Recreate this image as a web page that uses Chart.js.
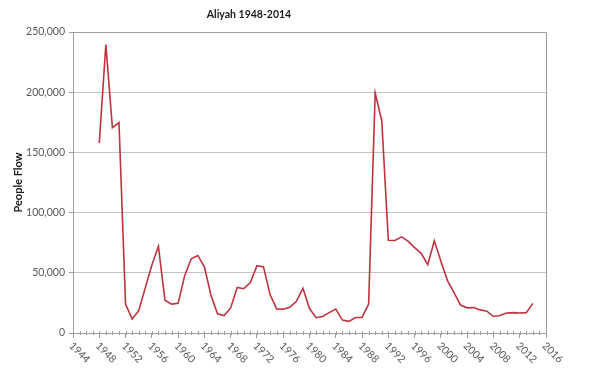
<!DOCTYPE html>
<html>
<head>
<meta charset="utf-8">
<script src="https://cdn.jsdelivr.net/npm/chart.js@4.4.1/dist/chart.umd.min.js"></script>
<style>
    html, body { margin: 0; padding: 0; background: #fff; }
</style>
</head>
<body>
<canvas id="aliyahChart" width="600" height="376"></canvas>
<script>
// Data
const years = [
    1948, 1949, 1950, 1951, 1952, 1953, 1954, 1955, 1956, 1957,
    1958, 1959, 1960, 1961, 1962, 1963, 1964, 1965, 1966, 1967,
    1968, 1969, 1970, 1971, 1972, 1973, 1974, 1975, 1976, 1977,
    1978, 1979, 1980, 1981, 1982, 1983, 1984, 1985, 1986, 1987,
    1988, 1989, 1990, 1991, 1992, 1993, 1994, 1995, 1996, 1997,
    1998, 1999, 2000, 2001, 2002, 2003, 2004, 2005, 2006, 2007,
    2008, 2009, 2010, 2011, 2012, 2013, 2014
];
const peopleFlow = [
    157800, 239500, 170500, 174800, 24000, 11600, 18400, 37500, 56200, 72000,
    27200, 24000, 24600, 47600, 61600, 64400, 55000, 31400, 16000, 14500,
    20800, 37800, 36800, 41900, 55900, 54900, 31900, 20000, 19700, 21300,
    26300, 37100, 20300, 12700, 13700, 16900, 19900, 10700, 9700, 12900,
    13000, 24000, 199300, 176300, 77000, 76800, 79800, 76300, 70900, 66200,
    56800, 76600, 59500, 43500, 33500, 23200, 20900, 21100, 19200, 18100,
    13700, 14500, 16600, 16900, 16600, 16900, 24600
];
const xTickYears = [1944, 1948, 1952, 1956, 1960, 1964, 1968, 1972, 1976,
    1980, 1984, 1988, 1992, 1996, 2000, 2004, 2008, 2012, 2016];
const yTickValues = [0, 50000, 100000, 150000, 200000, 250000];

const chartTitle = 'Aliyah 1948-2014';
const yAxisTitle = 'People Flow';

const axisGray = '#9d9d9d';
const gridGray = '#c4c4c4';
const lineRed = '#bd3440';

// Excel style axis: minor yearly ticks, rotated year labels, plot border, title
const excelAxisPlugin = {
    id: 'excelAxis',
    afterDraw(chart) {
        const ctx = chart.ctx;
        const xScale = chart.scales.x;
        const area = chart.chartArea;
        ctx.save();

        // top and right border of plot area
        ctx.strokeStyle = axisGray;
        ctx.lineWidth = 1;
        ctx.beginPath();
        ctx.moveTo(area.left, Math.round(area.top) + 0.5);
        ctx.lineTo(Math.round(area.right) + 0.5, Math.round(area.top) + 0.5);
        ctx.lineTo(Math.round(area.right) + 0.5, area.bottom);
        ctx.stroke();

        // minor ticks every year
        ctx.beginPath();
        for (let yr = xScale.min; yr <= xScale.max; yr++) {
            const px = Math.round(xScale.getPixelForValue(yr)) + 0.5;
            ctx.moveTo(px, area.bottom - 2);
            ctx.lineTo(px, area.bottom + 2);
        }
        ctx.stroke();

        // rotated year labels
        ctx.font = '10.5px Lato';
        ctx.fillStyle = '#595959';
        ctx.textAlign = 'left';
        ctx.textBaseline = 'middle';
        xScale.ticks.forEach(tick => {
            const px = xScale.getPixelForValue(tick.value);
            ctx.save();
            ctx.translate(px - 2, area.bottom + 11);
            ctx.rotate(Math.PI / 4);
            ctx.fillText(String(tick.value), 0, 0);
            ctx.restore();
        });

        // chart title
        ctx.font = 'bold 10.5px Lato';
        ctx.fillStyle = '#1a1a1a';
        ctx.textAlign = 'center';
        ctx.fillText(chartTitle, 249, 15);
        ctx.restore();
    }
};

const ctx = document.getElementById('aliyahChart').getContext('2d');
new Chart(ctx, {
    type: 'line',
    data: {
        datasets: [{
            label: 'Aliyah',
            data: years.map((yr, i) => ({ x: yr, y: peopleFlow[i] })),
            borderColor: lineRed,
            backgroundColor: lineRed,
            borderWidth: 1.6,
            pointRadius: 0,
            tension: 0
        }]
    },
    options: {
        responsive: false,
        animation: false,
        layout: {
            padding: { top: 32, right: 54, bottom: 0, left: 0 }
        },
        plugins: {
            legend: { display: false },
            tooltip: { enabled: false }
        },
        scales: {
            x: {
                type: 'linear',
                min: 1944,
                max: 2016,
                afterBuildTicks: scale => {
                    scale.ticks = xTickYears.map(v => ({ value: v }));
                },
                afterFit: scale => { scale.height = 43; },
                ticks: { display: false },
                grid: {
                    drawOnChartArea: false,
                    drawTicks: true,
                    tickLength: 5,
                    color: axisGray
                },
                border: { color: axisGray }
            },
            y: {
                min: 0,
                max: 250000,
                afterBuildTicks: scale => {
                    scale.ticks = yTickValues.map(v => ({ value: v }));
                },
                afterFit: scale => { scale.width = 73; },
                ticks: {
                    color: '#595959',
                    padding: 4,
                    font: { family: 'Lato', size: 10.5 },
                    callback: value => value.toLocaleString('en-US')
                },
                grid: {
                    color: gridGray,
                    tickLength: 4,
                    tickColor: axisGray
                },
                border: { color: axisGray },
                title: {
                    display: true,
                    text: yAxisTitle,
                    color: '#1a1a1a',
                    font: { family: 'Lato', size: 11, weight: 'bold' },
                    padding: { top: 12, bottom: 0 }
                }
            }
        }
    },
    plugins: [excelAxisPlugin]
});
</script>
</body>
</html>
